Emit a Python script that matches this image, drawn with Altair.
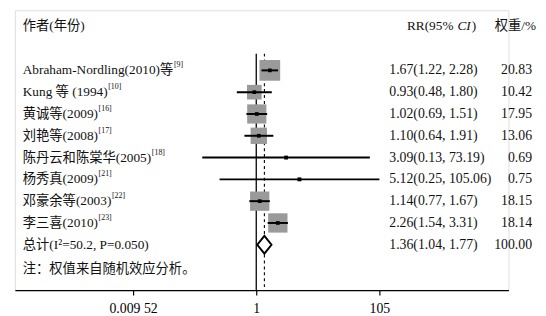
import altair as alt
import pandas as pd

# ---- data ----
authors = ["Abraham-Nordling(2010)等", "Kung 等 (1994)", "黄诚等(2009)", "刘艳等(2008)",
           "陈丹云和陈棠华(2005)", "杨秀真(2009)", "邓豪余等(2003)", "李三喜(2010)"]
refs = ["[9]", "[10]", "[16]", "[17]", "[18]", "[21]", "[22]", "[23]"]
rr = [1.67, 0.93, 1.02, 1.10, 3.09, 5.12, 1.14, 2.26]
lo = [1.22, 0.48, 0.69, 0.64, 0.13, 0.25, 0.77, 1.54]
hi = [2.28, 1.80, 1.51, 1.91, 73.19, 105.06, 1.67, 3.31]
weight = [20.83, 10.42, 17.95, 13.06, 0.69, 0.75, 18.15, 18.14]

total_label = "总计(I²=50.2, P=0.050)"
total_rr, total_lo, total_hi, total_w = 1.36, 1.04, 1.77, 100.00

tick_values = [0.00952, 1, 105]
tick_labels = ["0.009 52", "1", "105"]
note = "注：权值来自随机效应分析。"

FONT = "'Liberation Serif', 'Noto Sans CJK SC', serif"
FS = 13.5
FS_NUM = 14

# approximate text widths (Times metrics) to place citation superscripts
_w = {" ": 250, "(": 333, ")": 333, "-": 333, ".": 250, ",": 250, "%": 833,
      "A": 722, "N": 722, "K": 722, "R": 667, "a": 444, "b": 500, "r": 333, "h": 500, "m": 778,
      "o": 500, "d": 500, "l": 278, "i": 278, "n": 500, "g": 500, "u": 500}


def text_width(s, fs=FS):
    w = 0
    for c in s:
        if c.isdigit():
            w += 500
        elif c in _w:
            w += _w[c]
        elif ord(c) > 0x2E80:
            w += 1000
        else:
            w += 500
    return w * fs / 1000


LEFT = 8  # plot-x of left text column

rows = pd.DataFrame({
    "author": authors, "ref": refs, "rr": rr, "lo": lo, "hi": hi, "weight": weight,
    "row": list(range(len(authors))),
})
rows["supx"] = [LEFT + text_width(a) + 0.5 for a in authors]

total = pd.DataFrame({
    "author": [total_label], "rr": [total_rr], "lo": [total_lo], "hi": [total_hi],
    "weight": [total_w], "row": [len(authors)],
})
alltext = pd.concat([rows[["author", "row", "rr", "lo", "hi", "weight"]],
                     total[["author", "row", "rr", "lo", "hi", "weight"]]])
alltext["est"] = [f"{a:.2f}({b:.2f}, {c:.2f})" for a, b, c in zip(alltext.rr, alltext.lo, alltext.hi)]
alltext["wtxt"] = [f"{w:.2f}" for w in alltext.weight]

W, H = 501, 284
xscale = alt.Scale(type="log", domain=[10 ** (-245 / 61.85), 10 ** (256 / 61.85)], nice=False)
yscale = alt.Scale(domain=[-2.757, 10.079], reverse=True, nice=False, zero=False)
Y = alt.Y("row:Q", scale=yscale, axis=None)

label_expr = "datum.value < 0.1 ? '%s' : (datum.value < 10 ? '%s' : '%s')" % tuple(tick_labels)
xaxis = alt.Axis(values=tick_values, labelExpr=label_expr, title=None, grid=False,
                 domainColor="black", domainWidth=1.2, tickColor="black", tickWidth=1.2,
                 tickSize=5, labelFont=FONT, labelFontSize=FS_NUM, labelColor="black",
                 labelPadding=7, labelFlush=False, labelOverlap=False)

base = alt.Chart(rows)

null_line = alt.Chart(total).mark_rule(color="black", strokeWidth=1.3).encode(
    x=alt.datum(1, scale=xscale, axis=xaxis), y=alt.value(44), y2=alt.value(H))
dash_line = alt.Chart(total).mark_rule(color="black", strokeWidth=1.1, strokeDash=[3, 3]).encode(
    x=alt.X("rr:Q", scale=xscale, axis=xaxis), y=alt.value(44), y2=alt.value(H))

boxes = base.mark_square(color="#9a9a9a", opacity=1).encode(
    x=alt.X("rr:Q", scale=xscale, axis=xaxis), y=Y,
    size=alt.Size("weight:Q", scale=alt.Scale(type="linear", domain=[0, 100], range=[0, 2117]), legend=None))
ci = base.mark_rule(color="black", strokeWidth=2).encode(
    x=alt.X("lo:Q", scale=xscale, axis=xaxis), x2="hi:Q", y=Y)
pts = base.mark_square(color="black", opacity=1, size=14).encode(
    x=alt.X("rr:Q", scale=xscale, axis=xaxis), y=Y)
diamond = alt.Chart(total).mark_point(
    shape="M0,-1L0.8,0L0,1L-0.8,0Z", filled=True, fill="white", stroke="black",
    strokeWidth=2, size=324, opacity=1).encode(
    x=alt.X("rr:Q", scale=xscale, axis=xaxis), y=Y)

tstyle = dict(font=FONT, color="#111111", baseline="middle")
left_txt = alt.Chart(alltext).mark_text(align="left", fontSize=FS, **tstyle).encode(
    x=alt.value(LEFT), y=Y, text="author:N")
sup_txt = base.mark_text(align="left", font=FONT, fontSize=8, color="#111111", baseline="middle", dy=-5).encode(
    x=alt.X("supx:Q", scale=None), y=Y, text="ref:N")
est_txt = alt.Chart(alltext).mark_text(align="left", fontSize=FS_NUM, **tstyle).encode(
    x=alt.value(380), y=Y, text="est:N")
w_txt = alt.Chart(alltext).mark_text(align="right", fontSize=FS_NUM, **tstyle).encode(
    x=alt.value(525), y=Y, text="wtxt:N")

HY = 16
rr_x = 398
hdr = alt.Chart(total).mark_text(align="left", fontSize=FS, **tstyle).encode(
    x=alt.value(LEFT), y=alt.value(HY), text=alt.value("作者(年份)"))
hdr_rr1 = alt.Chart(total).mark_text(align="left", fontSize=FS, **tstyle).encode(
    x=alt.value(rr_x), y=alt.value(HY), text=alt.value("RR(95%"))
ci_x = rr_x + text_width("RR(95%") + 4
hdr_rr2 = alt.Chart(total).mark_text(align="left", fontStyle="italic", fontSize=FS, **tstyle).encode(
    x=alt.value(ci_x), y=alt.value(HY), text=alt.value("CI"))
hdr_rr3 = alt.Chart(total).mark_text(align="left", fontSize=FS, **tstyle).encode(
    x=alt.value(ci_x + 14.5), y=alt.value(HY), text=alt.value(")"))
hdr_w = alt.Chart(total).mark_text(align="right", fontSize=FS, **tstyle).encode(
    x=alt.value(529), y=alt.value(HY), text=alt.value("权重/%"))
note_txt = alt.Chart(total).mark_text(align="left", fontSize=FS, **tstyle).encode(
    x=alt.value(LEFT), y=alt.value(263), text=alt.value(note))

chart = alt.layer(
    null_line, dash_line, boxes, ci, pts, diamond,
    left_txt, sup_txt, est_txt, w_txt, hdr, hdr_rr1, hdr_rr2, hdr_rr3, hdr_w, note_txt,
).properties(
    width=W, height=H,
    autosize=alt.AutoSizeParams(type="none"),
    padding={"left": 7, "right": 30, "top": 0, "bottom": 24},
).configure_view(stroke=None).configure(background="white")

chart.save("out.html", embed_options={"renderer": "svg", "actions": False})
